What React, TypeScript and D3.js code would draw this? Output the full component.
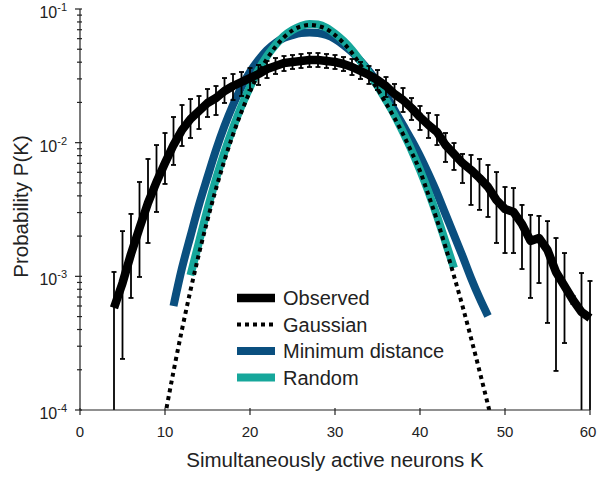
import React from 'react';
import * as d3 from 'd3';

// Observed distribution (K = 4..60): mean and error bar limits
const observedK = d3.range(4, 61);
const observedMean = [
  5.80e-4, 8.91e-4, 1.47e-3, 2.30e-3, 3.54e-3, 5.08e-3, 7.04e-3, 9.60e-3, 1.244e-2, 1.503e-2,
  1.725e-2, 1.981e-2, 2.158e-2, 2.435e-2, 2.654e-2, 2.843e-2, 3.045e-2, 3.263e-2, 3.557e-2, 3.746e-2,
  3.944e-2, 4.013e-2, 4.082e-2, 4.153e-2, 4.153e-2, 4.082e-2, 4.013e-2, 3.877e-2, 3.681e-2, 3.436e-2,
  3.207e-2, 2.943e-2, 2.654e-2, 2.312e-2, 2.085e-2, 1.817e-2, 1.556e-2, 1.356e-2, 1.202e-2, 9.60e-3,
  8.23e-3, 7.04e-3, 6.25e-3, 5.44e-3, 4.66e-3, 3.72e-3, 3.19e-3, 3.03e-3, 2.46e-3, 1.84e-3,
  1.935e-3, 1.574e-3, 1.078e-3, 8.47e-4, 6.65e-4, 5.41e-4, 4.88e-4,
];
const observedUpper = [
  1.078e-3, 2.18e-3, 2.93e-3, 5.08e-3, 7.55e-3, 9.60e-3, 1.181e-2, 1.556e-2, 1.913e-2, 2.121e-2,
  2.234e-2, 2.52e-2, 2.654e-2, 3.045e-2, 3.263e-2, 3.378e-2, 3.619e-2, 3.811e-2, 4.082e-2, 4.299e-2,
  4.449e-2, 4.527e-2, 4.606e-2, 4.686e-2, 4.686e-2, 4.606e-2, 4.527e-2, 4.373e-2, 4.226e-2, 4.013e-2,
  3.746e-2, 3.496e-2, 3.099e-2, 2.748e-2, 2.564e-2, 2.158e-2, 1.881e-2, 1.667e-2, 1.61e-2, 1.181e-2,
  9.94e-3, 8.23e-3, 8.09e-3, 7.55e-3, 6.81e-3, 6.03e-3, 4.66e-3, 4.58e-3, 3.42e-3, 2.88e-3,
  2.83e-3, 2.59e-3, 1.935e-3, 1.494e-3, 7.13e-4, 1.059e-3, 9.23e-4,
];
const observedLower = [
  0, 2.41e-4, 6.89e-4, 9.89e-4, 1.776e-3, 3.03e-3, 4.91e-3, 6.81e-3, 9.44e-3, 1.084e-2,
  1.265e-2, 1.556e-2, 1.61e-2, 1.981e-2, 2.085e-2, 2.234e-2, 2.477e-2, 2.701e-2, 3.045e-2, 3.263e-2,
  3.436e-2, 3.557e-2, 3.619e-2, 3.681e-2, 3.681e-2, 3.619e-2, 3.557e-2, 3.436e-2, 3.207e-2, 2.994e-2,
  2.748e-2, 2.477e-2, 2.196e-2, 1.913e-2, 1.696e-2, 1.478e-2, 1.244e-2, 1.084e-2, 9.60e-3, 7.17e-3,
  6.25e-3, 4.99e-3, 3.42e-3, 3.14e-3, 2.78e-3, 1.776e-3, 1.494e-3, 1.494e-3, 1.134e-3, 6.89e-4,
  8.91e-4, 4.48e-4, 1.96e-4, 3.17e-4, 6.21e-4, 0, 0,
];

// Gaussian model (K = 10..49)
const gaussianK = d3.range(10, 50);
const gaussianP = [
  9.0e-5, 1.94e-4, 4.0e-4, 7.86e-4, 1.476e-3, 2.64e-3, 4.52e-3, 7.38e-3, 1.148e-2, 1.706e-2,
  2.42e-2, 3.28e-2, 4.24e-2, 5.22e-2, 6.15e-2, 6.92e-2, 7.41e-2, 7.59e-2, 7.46e-2, 7.08e-2,
  6.38e-2, 5.57e-2, 4.69e-2, 3.81e-2, 3.10e-2, 2.52e-2, 1.97e-2, 1.53e-2, 1.16e-2, 8.51e-3,
  6.14e-3, 4.05e-3, 2.64e-3, 1.66e-3, 1.006e-3, 6.00e-4, 3.46e-4, 1.96e-4, 1.09e-4, 5.97e-5,
];

// Minimum distance model (K = 11..48)
const minDistK = d3.range(11, 49);
const minDistP = [
  6.00e-4, 1.153e-3, 2.00e-3, 3.42e-3, 5.53e-3, 8.81e-3, 1.334e-2, 1.914e-2, 2.61e-2, 3.38e-2,
  4.15e-2, 4.93e-2, 5.57e-2, 6.07e-2, 6.38e-2, 6.61e-2, 6.67e-2, 6.61e-2, 6.38e-2, 5.96e-2,
  5.38e-2, 4.76e-2, 4.08e-2, 3.44e-2, 2.84e-2, 2.28e-2, 1.75e-2, 1.355e-2, 1.047e-2, 7.94e-3,
  5.83e-3, 4.20e-3, 2.92e-3, 2.04e-3, 1.419e-3, 9.72e-4, 6.89e-4, 5.05e-4,
];

// Random model (K = 13..44)
const randomK = d3.range(13, 45);
const randomP = [
  1.02e-3, 1.81e-3, 3.19e-3, 5.35e-3, 8.51e-3, 1.288e-2, 1.88e-2, 2.61e-2, 3.50e-2, 4.45e-2,
  5.38e-2, 6.28e-2, 6.97e-2, 7.46e-2, 7.73e-2, 7.65e-2, 7.25e-2, 6.55e-2, 5.77e-2, 4.93e-2,
  4.08e-2, 3.32e-2, 2.65e-2, 2.08e-2, 1.61e-2, 1.202e-2, 8.81e-3, 6.24e-3, 4.28e-3, 2.83e-3,
  1.81e-3, 1.153e-3,
];

const xTicks = [0, 10, 20, 30, 40, 50, 60];
const yMajorExps = [-4, -3, -2, -1];
const legendItems = ['Observed', 'Gaussian', 'Minimum distance', 'Random'];

const W = 597;
const H = 477;
const left = 80;
const right = 590;
const top = 9;
const bottom = 410;

const BLUE = '#0a4f7f';
const TEAL = '#16a79b';
const TEXT = '#222';
const FONT = '"Liberation Sans", Arial, sans-serif';

export default function App() {
  const x = d3.scaleLinear().domain([0, 60]).range([left, right]);
  const y = d3.scaleLog().domain([1e-4, 1e-1]).range([bottom, top]);
  const yc = (v: number) => y(Math.max(v, 1e-4 * 0.5));

  const smooth = d3
    .line<[number, number]>()
    .x((d) => x(d[0]))
    .y((d) => yc(d[1]))
    .curve(d3.curveMonotoneX);
  const straight = d3
    .line<[number, number]>()
    .x((d) => x(d[0]))
    .y((d) => yc(d[1]));

  const pairs = (ks: number[], vs: number[]) => ks.map((k, i) => [k, vs[i]] as [number, number]);

  const yTicks = y.ticks();
  const majorSet = new Set(yMajorExps.map((e) => Math.pow(10, e).toExponential(3)));

  const legendX0 = 237;
  const legendX1 = 275;
  const legendY0 = 298;
  const legendDY = 26.5;

  return (
    <svg width={W} height={H} style={{ position: 'absolute', left: 0, top: 0, background: '#fff' }} fontFamily={FONT}>
      <defs>
        <clipPath id="plotClip">
          <rect x={left} y={top - 20} width={right - left + 20} height={bottom - top + 20} />
        </clipPath>
      </defs>

      {/* model curves */}
      <g clipPath="url(#plotClip)" fill="none">
        <path d={smooth(pairs(minDistK, minDistP)) || ''} stroke={BLUE} strokeWidth={8} />
        <path d={smooth(pairs(randomK, randomP)) || ''} stroke={TEAL} strokeWidth={8} />
        <path d={smooth(pairs(gaussianK, gaussianP)) || ''} stroke="#000" strokeWidth={4} strokeDasharray="4 4" />
      </g>

      {/* observed error bars */}
      <g stroke="#000" strokeWidth={1.8}>
        {observedK.map((k, i) => {
          const cx = x(k);
          const yTop = y(observedUpper[i]);
          const lowClipped = observedLower[i] < 1e-4;
          const yBot = lowClipped ? bottom : y(observedLower[i]);
          return (
            <g key={k}>
              <line x1={cx} x2={cx} y1={yTop} y2={yBot} />
              <line x1={cx - 2.5} x2={cx + 2.5} y1={yTop} y2={yTop} />
              {!lowClipped && <line x1={cx - 2.5} x2={cx + 2.5} y1={yBot} y2={yBot} />}
            </g>
          );
        })}
      </g>

      {/* observed line */}
      <path
        d={straight(pairs(observedK, observedMean)) || ''}
        fill="none"
        stroke="#000"
        strokeWidth={8.5}
        strokeLinejoin="round"
      />

      {/* axes */}
      <g stroke={TEXT} strokeWidth={1.2}>
        <line x1={left} x2={left} y1={top} y2={bottom} />
        <line x1={left} x2={right} y1={bottom} y2={bottom} />
        {xTicks.map((t) => (
          <line key={t} x1={x(t)} x2={x(t)} y1={bottom - 2} y2={bottom + 5} />
        ))}
        {yTicks.map((t, i) => {
          const major = majorSet.has(t.toExponential(3));
          return <line key={i} x1={major ? left - 5 : left - 3} x2={left + 2} y1={y(t)} y2={y(t)} />;
        })}
      </g>

      {/* tick labels */}
      <g fill={TEXT}>
        {xTicks.map((t) => (
          <text key={t} x={Math.min(x(t), 588)} y={bottom + 27} textAnchor="middle" fontSize={15}>
            {t}
          </text>
        ))}
        {yMajorExps.map((e) => (
          <text key={e} x={left - 13} y={y(Math.pow(10, e)) + 9} textAnchor="end" fontSize={16}>
            10
            <tspan fontSize={11} dy={-7}>
              {String(e)}
            </tspan>
          </text>
        ))}
      </g>

      {/* axis titles */}
      <text x={335} y={467} textAnchor="middle" fontSize={20.5} fill={TEXT}>
        Simultaneously active neurons K
      </text>
      <text
        transform={`translate(28, ${(top + bottom) / 2 - 3}) rotate(-90)`}
        textAnchor="middle"
        fontSize={20.5}
        fill={TEXT}
      >
        Probability P(K)
      </text>

      {/* legend */}
      <g>
        {legendItems.map((name, i) => {
          const ly = legendY0 + i * legendDY;
          let line;
          if (i === 0) line = <line x1={legendX0} x2={legendX1} y1={ly} y2={ly} stroke="#000" strokeWidth={8.5} />;
          else if (i === 1)
            line = <line x1={legendX0} x2={legendX1} y1={ly} y2={ly} stroke="#000" strokeWidth={4} strokeDasharray="4 4" />;
          else if (i === 2) line = <line x1={legendX0} x2={legendX1} y1={ly} y2={ly} stroke={BLUE} strokeWidth={8} />;
          else line = <line x1={legendX0} x2={legendX1} y1={ly} y2={ly} stroke={TEAL} strokeWidth={8} />;
          return (
            <g key={name}>
              {line}
              <text x={283} y={ly + 7} fontSize={20} fill={TEXT}>
                {name}
              </text>
            </g>
          );
        })}
      </g>
    </svg>
  );
}
